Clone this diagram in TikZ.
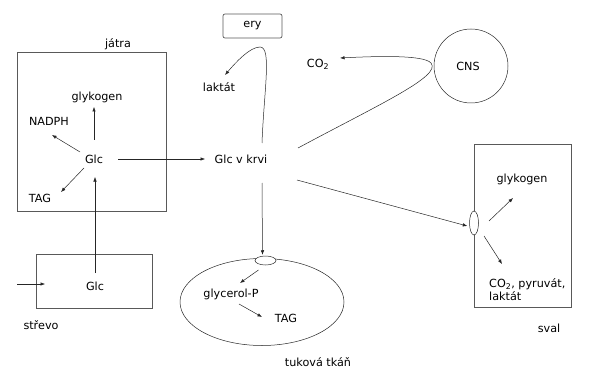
\documentclass[tikz,border=0pt]{standalone}
\usepackage{fontspec}
\setmainfont{DejaVu Sans}
\usetikzlibrary{arrows.meta,calc,shapes.geometric}
\begin{document}
\begin{tikzpicture}[x=1pt,y=-1pt,
  lbl/.style={inner sep=0pt,font=\fontsize{11.2}{13}\selectfont},
  arr/.style={draw=black!85,line width=0.5pt,-{Latex[length=4.5pt,width=3.5pt]}},
  ln/.style={draw=black!85,line width=0.5pt},
  boxline/.style={draw=black!65,line width=0.7pt}]
\useasboundingbox (0,0) rectangle (601,390);
% boxes
\node[boxline,rounded corners=2pt,minimum width=59pt,minimum height=24pt,lbl] (ery) at (252.5,26) {ery};
\draw[boxline] (17,52) rectangle (166,211);
\draw[boxline] (36,254) rectangle (152,308);
\draw[boxline] (474,144) rectangle (571,307);
\node[draw=black!85,line width=0.5pt,circle,minimum size=74pt,inner sep=0pt] (cnsc) at (471,66) {};
\node[lbl] (cns) at (468,66) {CNS};
\draw[ln] (262,302) ellipse [x radius=82, y radius=43.5];
\node[draw=black!85,line width=0.5pt,ellipse,minimum width=21pt,minimum height=9pt,inner sep=0pt,fill=white] (ef) at (265.5,260.5) {};
\node[draw=black!85,line width=0.5pt,ellipse,minimum width=9pt,minimum height=24pt,inner sep=0pt,fill=white] (es) at (474,223) {};
% labels
\node[lbl] (jatra) at (118,44) {játra};
\node[lbl] (glyk) at (97,97) {glykogen};
\node[lbl] (nadph) at (49,121) {NADPH};
\node[lbl] (glc) at (94,159) {Glc};
\node[lbl] (tagl) at (40,198) {TAG};
\node[lbl] (krev) at (241,159) {Glc v krvi};
\node[lbl] (gs) at (95,286) {Glc};
\node[lbl] (strevo) at (41,325) {střevo};
\node[lbl] (laktat) at (219,87) {laktát};
\node[lbl] (co2) at (318,64) {CO\textsubscript{2}};
\node[lbl] (glyp) at (231,294) {glycerol-P};
\node[lbl] (tagf) at (286,318) {TAG};
\node[lbl] (tuk) at (318,362) {tuková tkáň};
\node[lbl] (glyks) at (522,179) {glykogen};
\node[lbl,anchor=west,align=left] (co2s) at (489,290) {CO\textsubscript{2}, pyruvát,\\laktát};
\node[lbl] (sval) at (549,328) {sval};
% arrows in liver
\draw[arr] ($(glc)+(0,-19)$) -- ($(glyk)+(-3,10)$);
\draw[arr] ($(glc)+(-14,-7)$) -- ($(nadph)+(3,14)$);
\draw[arr] ($(glc)+(-10,9)$) -- ($(tagl)+(21,-6)$);
\draw[arr] ($(glc)+(24,0)$) -- ($(krev)+(-36,0)$);
\draw[arr] ($(gs)+(0,-13)$) -- ($(glc)+(1,18)$);
\coordinate (inA) at (17,284);
\coordinate (inB) at (45,284);
\draw[arr] (inA) -- (inB);
% ery loop
\draw[arr] ($(krev)+(21,-16)$) .. controls (264,90) and (272,47) .. (260,47) .. controls (250,47) and (236,62) .. ($(laktat)+(6,-12)$);
% CNS
\draw[arr] ($(krev)+(57,-11)$) .. controls (380,104) and (442,76) .. (431,63) .. controls (424,55) and (380,56) .. ($(co2)+(22,-6)$);
% to fat tissue
\coordinate (fatTop) at ($(ef.north)+(-3,-1)$);
\draw[arr] ($(krev)+(21,24)$) -- (fatTop);
\draw[arr] ($(ef)+(-7,9.5)$) -- ($(glyp)+(9,-11)$);
\draw[arr] ($(glyp)+(8,10)$) -- ($(tagf)+(-24,-1)$);
% to muscle
\draw[arr] ($(krev)+(56,21)$) -- ($(es.west)+(-2,3)$);
\draw[arr] ($(es)+(15,-2)$) -- ($(glyks)+(-9,19)$);
\draw[arr] ($(es)+(10,13)$) -- ($(co2s.west)+(13,-26)$);
\end{tikzpicture}
\end{document}
